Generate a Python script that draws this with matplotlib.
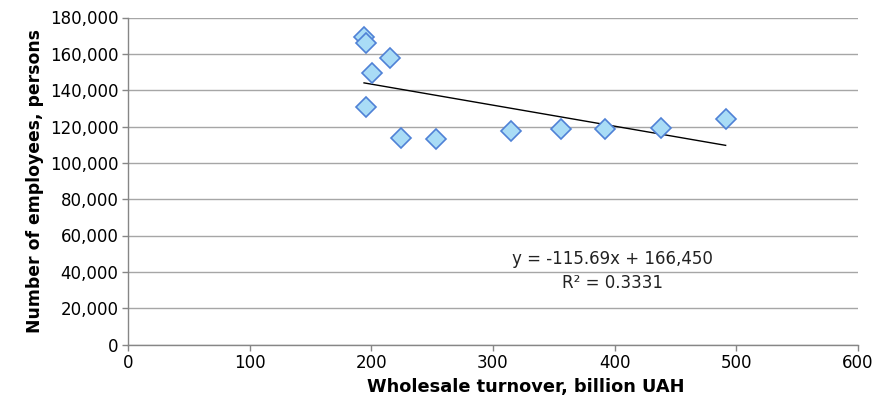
import numpy as np
import matplotlib.pyplot as plt
from matplotlib.ticker import FuncFormatter

# wholesale turnover (billion UAH) and number of employees (persons)
turnover = [194.0, 195.6, 215.3, 200.3, 195.6, 224.4, 253.4, 314.5, 356.1, 392.3, 438.1, 491.2]
employees = [169400, 165800, 157500, 149300, 130950, 113600, 113200, 117600, 118500, 118700, 119400, 124000]

# linear trend as reported on the chart
slope = -115.69
intercept = 166450
r2 = 0.3331

plt.rcParams['font.family'] = ['DejaVu Sans']

fig = plt.figure(figsize=(8.78, 4.01), dpi=100)
ax = fig.add_axes([128 / 878, 1 - 344.5 / 401, (858 - 128) / 878, (344.5 - 17.5) / 401])

axis_col = '#868686'
ax.grid(axis='y', color='#a6a6a6', linewidth=1)
ax.set_axisbelow(True)

xs = np.array([min(turnover), max(turnover)])
ax.plot(xs, slope * xs + intercept, color='black', linewidth=1, zorder=2)
ax.plot(turnover, employees, linestyle='none', marker='D', markersize=10,
        markerfacecolor='#a9dcf6', markeredgecolor='#4f81d6', markeredgewidth=1.2, zorder=3)

ax.text(398, 47300, 'y = -115.69x + 166,450', ha='center', va='center', fontsize=12, color='#222222')
ax.text(398, 34100, 'R² = {:.4f}'.format(r2), ha='center', va='center', fontsize=12, color='#222222')

ax.set_xlim(0, 600)
ax.set_ylim(0, 180000)
ax.set_xticks(np.arange(0, 601, 100))
ax.set_yticks(np.arange(0, 180001, 20000))
ax.yaxis.set_major_formatter(FuncFormatter(lambda v, p: '{:,.0f}'.format(v)))

for s in ['top', 'right']:
    ax.spines[s].set_visible(False)
for s in ['left', 'bottom']:
    ax.spines[s].set_color(axis_col)
    ax.spines[s].set_linewidth(1)
ax.tick_params(axis='both', colors=axis_col, labelcolor='black', labelsize=12, length=4, width=1, pad=3)

ax.set_xlabel('Wholesale turnover, billion UAH', fontsize=12.8, fontweight='bold')
ax.xaxis.set_label_coords((525.5 - 128) / 730, -33.5 / 327)
ax.set_ylabel('Number of employees, persons', fontsize=12.4, fontweight='bold', labelpad=4)

fig.savefig('out.png', dpi=100)
